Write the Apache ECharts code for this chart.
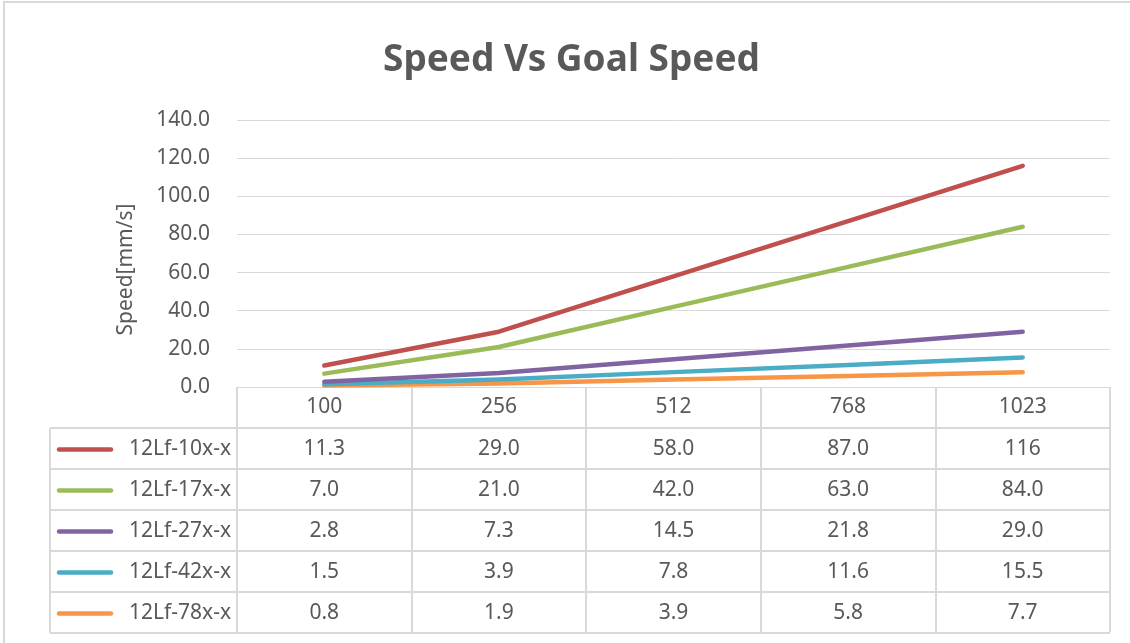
<!DOCTYPE html>
<html>
<head>
<meta charset="utf-8">
<script src="https://cdn.jsdelivr.net/npm/echarts@6/dist/echarts.min.js"></script>
<style>
  html, body { margin: 0; padding: 0; background: #fff; }
  #main { width: 1130px; height: 643px; }
</style>
</head>
<body>
<div id="main"></div>
<script>
// data
var categories = ['100', '256', '512', '768', '1023'];
var seriesNames = ['12Lf-10x-x', '12Lf-17x-x', '12Lf-27x-x', '12Lf-42x-x', '12Lf-78x-x'];
var s10 = [11.3, 29.0, 58.0, 87.0, 116];
var s17 = [7.0, 21.0, 42.0, 63.0, 84.0];
var s27 = [2.8, 7.3, 14.5, 21.8, 29.0];
var s42 = [1.5, 3.9, 7.8, 11.6, 15.5];
var s78 = [0.8, 1.9, 3.9, 5.8, 7.7];
var allSeries = [s10, s17, s27, s42, s78];
var colors = ['#C0504D', '#9BBB59', '#8064A2', '#4BACC6', '#F79646'];

var font = '"Noto Sans", sans-serif';
var textColor = '#595959';
var lineColor = '#d9d9d9';
var fs = 21;

var chart = echarts.init(document.getElementById('main'));

var plotLeft = 237, plotRight = 1110, plotTop = 120, plotBottom = 387;
var rowH = 41;
var tableLeft = 50;

function fmt(v) {
  return v >= 100 ? v.toFixed(0) : v.toFixed(1);
}

var option = {
  animation: false,
  backgroundColor: '#fff',
  title: {
    text: 'Speed Vs Goal Speed',
    left: 378,
    top: 37,
    textStyle: { fontFamily: font, fontSize: 37, fontWeight: 'bold', color: textColor }
  },
  grid: {
    left: plotLeft,
    right: 1130 - plotRight,
    top: plotTop,
    bottom: 643 - plotBottom
  },
  xAxis: {
    type: 'category',
    data: categories,
    boundaryGap: true,
    axisLine: { show: true, lineStyle: { color: lineColor, width: 1 } },
    axisTick: { show: true, length: rowH * 6 - 1, lineStyle: { color: lineColor, width: 2 } },
    axisLabel: { margin: 10, fontFamily: font, fontSize: fs, color: textColor }
  },
  yAxis: {
    type: 'value',
    min: 0,
    max: 140,
    interval: 20,
    name: 'Speed[mm/s]',
    nameLocation: 'middle',
    nameGap: 100,
    nameTextStyle: { fontFamily: font, fontSize: fs, color: textColor, padding: [0, 32, 0, 0] },
    axisLine: { show: false },
    axisTick: { show: false },
    axisLabel: { margin: 27, fontFamily: font, fontSize: fs, color: textColor, formatter: function (v) { return v.toFixed(1); } },
    splitLine: { lineStyle: { color: lineColor, width: 1 } }
  },
  series: allSeries.map(function (d, i) {
    return {
      name: seriesNames[i],
      type: 'line',
      data: d,
      showSymbol: false,
      z: 10 - i,
      lineStyle: { color: colors[i], width: 4.5, cap: 'round', join: 'round' },
      itemStyle: { color: colors[i] }
    };
  })
};

chart.setOption(option);

// data table under the plot
var g = [];
// outer chart border
g.push({ type: 'rect', shape: { x: 4, y: 2, width: 1140, height: 660 }, style: { fill: null, stroke: lineColor, lineWidth: 2 }, silent: true });
for (var r = 1; r <= 6; r++) {
  var y = plotBottom + rowH * r;
  g.push({ type: 'line', shape: { x1: tableLeft, y1: y, x2: plotRight, y2: y }, style: { stroke: lineColor, lineWidth: 2 }, silent: true });
}
g.push({ type: 'line', shape: { x1: tableLeft, y1: plotBottom + rowH, x2: tableLeft, y2: plotBottom + rowH * 6 }, style: { stroke: lineColor, lineWidth: 2 }, silent: true });

seriesNames.forEach(function (name, i) {
  var cy = plotBottom + rowH * (i + 1) + rowH / 2 + 1;
  g.push({ type: 'line', shape: { x1: 59, y1: cy, x2: 111, y2: cy }, style: { stroke: colors[i], lineWidth: 4.5, lineCap: 'round' }, silent: true });
  g.push({ type: 'text', x: 231, y: cy, style: { text: name, font: fs + 'px ' + font, fill: textColor, textAlign: 'right', textVerticalAlign: 'middle' }, silent: true });
  allSeries[i].forEach(function (v, j) {
    var cx = chart.convertToPixel({ xAxisIndex: 0 }, j);
    g.push({ type: 'text', x: cx, y: cy, style: { text: fmt(v), font: fs + 'px ' + font, fill: textColor, textAlign: 'center', textVerticalAlign: 'middle' }, silent: true });
  });
});

chart.setOption({ graphic: g });
</script>
</body>
</html>
